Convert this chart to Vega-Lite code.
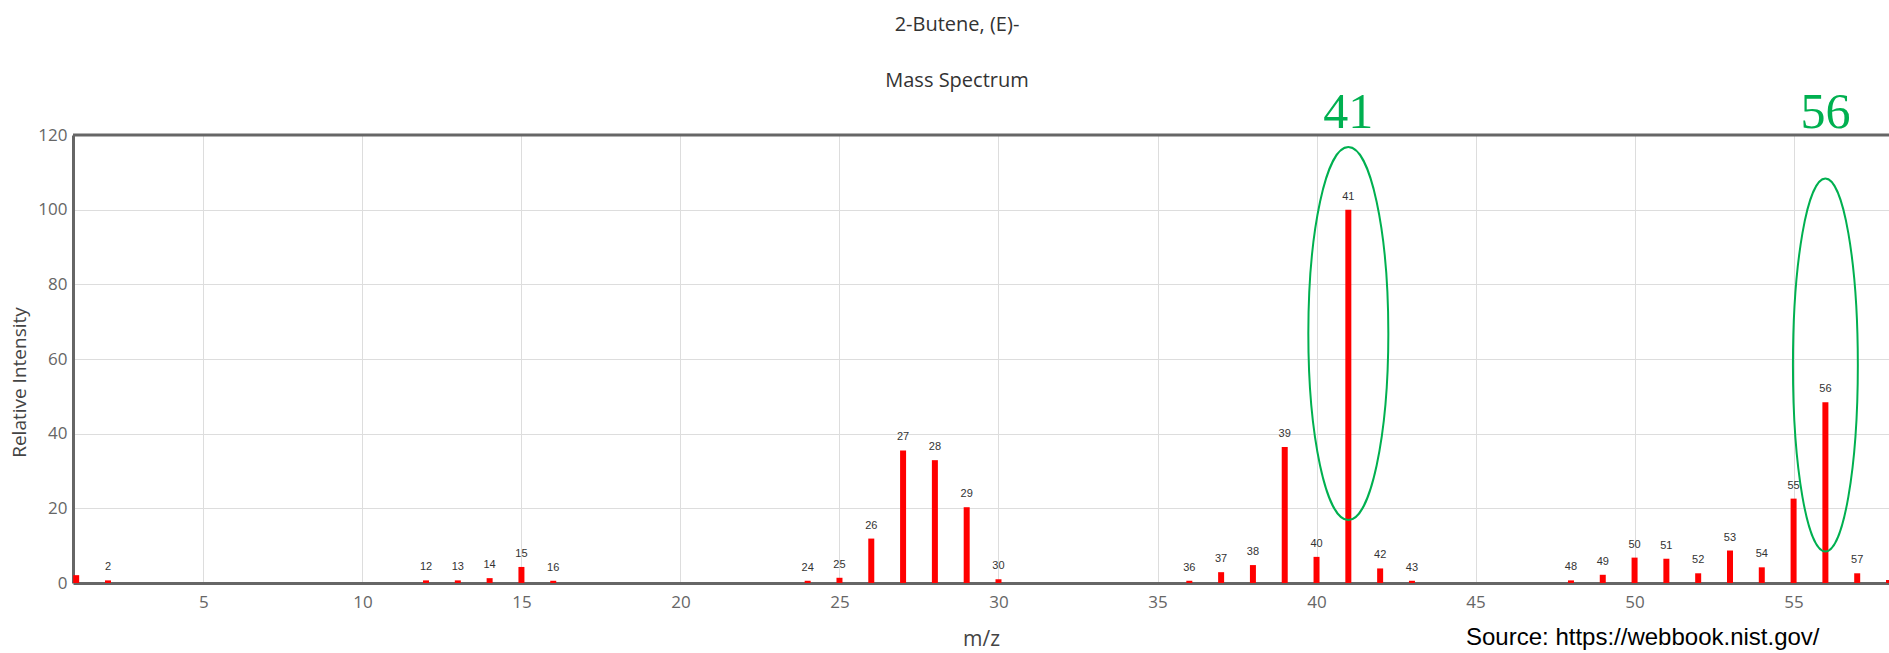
{
  "$schema": "https://vega.github.io/schema/vega-lite/v6.json",
  "width": 1816,
  "height": 448,
  "autosize": {"type": "none"},
  "padding": {"left": 73, "top": 135, "right": 0, "bottom": 70},
  "background": "white",
  "title": {
    "text": "2-Butene, (E)-",
    "subtitle": "Mass Spectrum",
    "anchor": "middle",
    "dx": -24,
    "offset": -3,
    "font": "Open Sans",
    "fontSize": 20,
    "fontWeight": "normal",
    "color": "#333333",
    "subtitleFont": "Open Sans",
    "subtitleFontSize": 20,
    "subtitleColor": "#333333",
    "subtitlePadding": 36
  },
  "config": {"view": {"stroke": null}},
  "datasets": {
    "spectrum": [
      {"mz": 1, "intensity": 2.1},
      {"mz": 2, "intensity": 0.7},
      {"mz": 12, "intensity": 0.7},
      {"mz": 13, "intensity": 0.7},
      {"mz": 14, "intensity": 1.3},
      {"mz": 15, "intensity": 4.3},
      {"mz": 16, "intensity": 0.6},
      {"mz": 24, "intensity": 0.6},
      {"mz": 25, "intensity": 1.4},
      {"mz": 26, "intensity": 11.9},
      {"mz": 27, "intensity": 35.5},
      {"mz": 28, "intensity": 32.9},
      {"mz": 29, "intensity": 20.3},
      {"mz": 30, "intensity": 1.0},
      {"mz": 36, "intensity": 0.6},
      {"mz": 37, "intensity": 2.9},
      {"mz": 38, "intensity": 4.8},
      {"mz": 39, "intensity": 36.4},
      {"mz": 40, "intensity": 7.0},
      {"mz": 41, "intensity": 100},
      {"mz": 42, "intensity": 3.9},
      {"mz": 43, "intensity": 0.6},
      {"mz": 48, "intensity": 0.7},
      {"mz": 49, "intensity": 2.2},
      {"mz": 50, "intensity": 6.8},
      {"mz": 51, "intensity": 6.5},
      {"mz": 52, "intensity": 2.6},
      {"mz": 53, "intensity": 8.7},
      {"mz": 54, "intensity": 4.2},
      {"mz": 55, "intensity": 22.6},
      {"mz": 56, "intensity": 48.4},
      {"mz": 57, "intensity": 2.6},
      {"mz": 58, "intensity": 0.8}
    ],
    "peaks": [
      {"mz": 41, "label": "41"},
      {"mz": 56, "label": "56"}
    ]
  },
  "layer": [
    {
      "data": {"name": "spectrum"},
      "mark": {"type": "rule", "strokeWidth": 6, "strokeCap": "butt", "color": "#ff0000", "clip": true},
      "encoding": {
        "x": {
          "field": "mz",
          "type": "quantitative",
          "scale": {"domain": [0.9, 58], "nice": false, "zero": false},
          "axis": {
            "values": [5, 10, 15, 20, 25, 30, 35, 40, 45, 50, 55],
            "grid": true,
            "gridColor": "#dddddd",
            "gridWidth": 1,
            "ticks": false,
            "labelPadding": 11,
            "labelFont": "Open Sans",
            "labelFontSize": 17,
            "labelColor": "#666666",
            "domainColor": "#666666",
            "domainWidth": 3,
            "title": "m/z",
            "titleFont": "Open Sans",
            "titleFontSize": 21,
            "titleFontWeight": "normal",
            "titleColor": "#444444",
            "titlePadding": 18
          }
        },
        "y": {
          "field": "intensity",
          "type": "quantitative",
          "scale": {"domain": [0, 120], "nice": false},
          "axis": {
            "values": [0, 20, 40, 60, 80, 100, 120],
            "grid": true,
            "gridColor": "#dddddd",
            "gridWidth": 1,
            "ticks": false,
            "labelPadding": 6,
            "labelFont": "Open Sans",
            "labelFontSize": 17,
            "labelColor": "#666666",
            "domainColor": "#666666",
            "domainWidth": 3,
            "title": "Relative Intensity",
            "titleFont": "Open Sans",
            "titleFontSize": 19,
            "titleFontWeight": "normal",
            "titleColor": "#444444",
            "titlePadding": 8,
            "titleY": 247
          }
        },
        "y2": {"datum": 0}
      }
    },
    {
      "data": {"name": "spectrum"},
      "transform": [{"filter": "datum.mz > 1 && datum.mz < 58"}],
      "mark": {"type": "text", "dy": -10, "baseline": "alphabetic", "font": "Liberation Sans", "fontSize": 11, "color": "#333333"},
      "encoding": {
        "x": {"field": "mz", "type": "quantitative"},
        "y": {"field": "intensity", "type": "quantitative"},
        "text": {"field": "mz", "type": "quantitative"}
      }
    },
    {
      "data": {"name": "peaks"},
      "transform": [{"filter": "datum.mz == 41"}],
      "mark": {"type": "rule", "strokeWidth": 3, "color": "#666666"},
      "encoding": {"y": {"datum": 120}}
    },
    {
      "data": {"name": "peaks"},
      "transform": [{"filter": "datum.mz == 41"}],
      "mark": {
        "type": "point",
        "shape": "M 0.2145 0 C 0.2145 0.5523 0.1185 1 0 1 C -0.1185 1 -0.2145 0.5523 -0.2145 0 C -0.2145 -0.5523 -0.1185 -1 0 -1 C 0.1185 -1 0.2145 -0.5523 0.2145 0 Z",
        "size": 139129,
        "filled": false,
        "stroke": "#00b050",
        "strokeWidth": 2,
        "opacity": 1
      },
      "encoding": {
        "x": {"field": "mz", "type": "quantitative"},
        "y": {"datum": 66.8}
      }
    },
    {
      "data": {"name": "peaks"},
      "transform": [{"filter": "datum.mz == 56"}],
      "mark": {
        "type": "point",
        "shape": "M 0.174 0 C 0.174 0.5523 0.0961 1 0 1 C -0.0961 1 -0.174 0.5523 -0.174 0 C -0.174 -0.5523 -0.0961 -1 0 -1 C 0.0961 -1 0.174 -0.5523 0.174 0 Z",
        "size": 139129,
        "filled": false,
        "stroke": "#00b050",
        "strokeWidth": 2,
        "opacity": 1
      },
      "encoding": {
        "x": {"field": "mz", "type": "quantitative"},
        "y": {"datum": 58.4}
      }
    },
    {
      "data": {"name": "peaks"},
      "mark": {"type": "text", "dy": -7, "baseline": "alphabetic", "font": "Liberation Serif", "fontSize": 50, "color": "#00b050"},
      "encoding": {
        "x": {"field": "mz", "type": "quantitative"},
        "y": {"datum": 120},
        "text": {"field": "label"}
      }
    },
    {
      "data": {"name": "peaks"},
      "transform": [{"filter": "datum.mz == 41"}],
      "mark": {"type": "text", "dy": 55, "align": "left", "baseline": "middle", "font": "Liberation Sans", "fontSize": 24, "color": "#000000"},
      "encoding": {
        "x": {"datum": 44.7},
        "y": {"datum": 0},
        "text": {"value": "Source: https://webbook.nist.gov/"}
      }
    }
  ]
}
